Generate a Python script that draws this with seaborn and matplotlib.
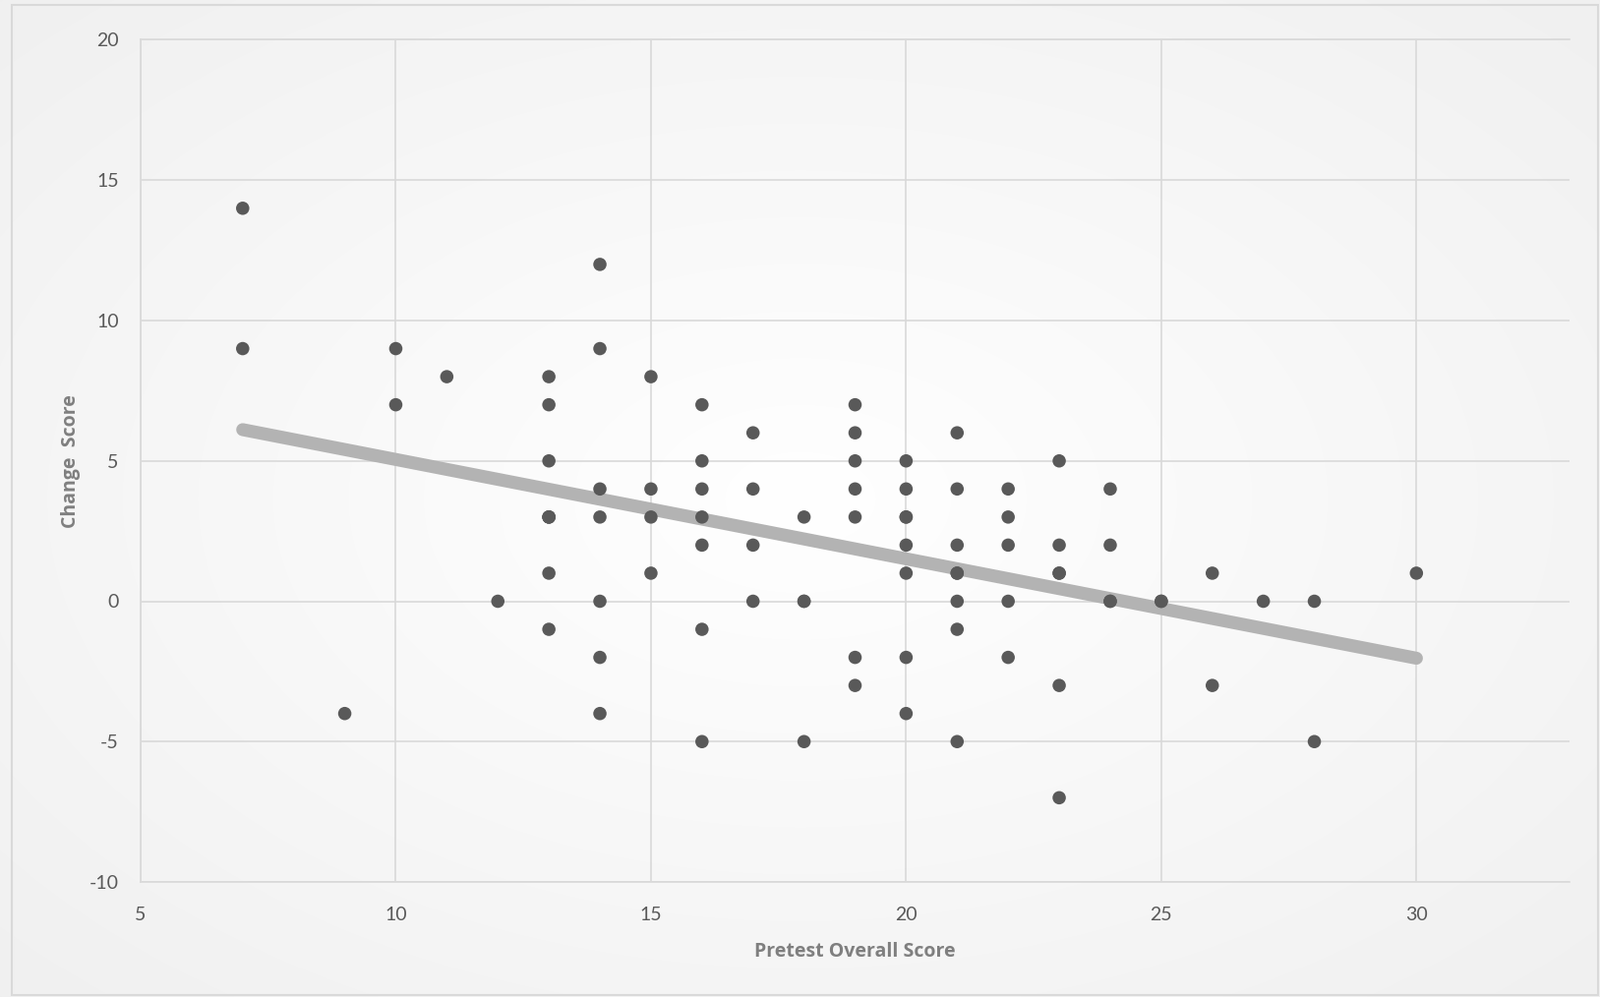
import numpy as np
import pandas as pd
import matplotlib
matplotlib.use("Agg")
import matplotlib.pyplot as plt
import seaborn as sns

# Data (overlapping dots appear as duplicates)
pretest = [7, 7, 9, 10, 10, 11, 12,
           13, 13, 13, 13, 13, 13, 13, 13,
           14, 14, 14, 14, 14, 14, 14,
           15, 15, 15, 15,
           16, 16, 16, 16, 16, 16, 16,
           17, 17, 17, 17,
           18, 18, 18, 18,
           19, 19, 19, 19, 19, 19, 19,
           20, 20, 20, 20, 20, 20, 20, 20,
           21, 21, 21, 21, 21, 21, 21, 21,
           22, 22, 22, 22, 22,
           23, 23, 23, 23, 23, 23,
           24, 24, 24, 24,
           25, 25, 26, 26, 27, 28, 28, 30]
change = [14, 9, -4, 9, 7, 8, 0,
          8, 7, 5, 3, 3, 3, 1, -1,
          12, 9, 4, 3, 0, -2, -4,
          8, 4, 3, 1,
          7, 5, 4, 3, 2, -1, -5,
          6, 4, 2, 0,
          3, 0, 0, -5,
          7, 6, 5, 4, 3, -2, -3,
          5, 4, 3, 3, 2, 1, -2, -4,
          6, 4, 2, 1, 1, 0, -1, -5,
          4, 3, 2, 0, -2,
          5, 2, 1, 1, -3, -7,
          4, 2, 0, 0,
          0, 0, 1, -3, 0, 0, -5, 1]
x_ticks = [5, 10, 15, 20, 25, 30]
y_ticks = [-10, -5, 0, 5, 10, 15, 20]

df = pd.DataFrame({"Pretest Overall Score": pretest, "Change Score": change})

sns.set_theme(style="white")
plt.rcParams["font.family"] = ["Lato", "DejaVu Sans"]
plt.rcParams["axes.unicode_minus"] = False

W, H = 1627, 1014
fig = plt.figure(figsize=(W / 100, H / 100), dpi=100)

# radial gradient background
bg = fig.add_axes([0, 0, 1, 1], zorder=-10)
yy, xx = np.mgrid[0:H, 0:W]
r = np.sqrt(((xx - W * 0.5) / (W * 0.6)) ** 2 + ((yy - H * 0.5) / (H * 0.6)) ** 2)
val = 1.0 - 0.06 * np.clip(r, 0, 1.2) / 1.2
bg.imshow(np.dstack([val, val, val]), aspect="auto", extent=[0, 1, 0, 1])
bg.set_xlim(0, 1); bg.set_ylim(0, 1)
bg.axis("off")
bg.add_patch(plt.Rectangle((12 / W, 1 - (H - 2) / H), (W - 14) / W, (H - 7) / H,
                           fill=False, edgecolor="#d9d9d9", lw=1.5, transform=bg.transAxes))

ax = fig.add_axes([143 / W, 1 - 897 / H, (1596 - 143) / W, (897 - 40.5) / H])
ax.set_facecolor("none")

sns.regplot(data=df, x="Pretest Overall Score", y="Change Score", ax=ax, ci=None,
            scatter=False, truncate=True,
            line_kws=dict(color="#b3b3b3", lw=9.5, solid_capstyle="round", zorder=2))
sns.scatterplot(data=df, x="Pretest Overall Score", y="Change Score", ax=ax,
                color="#595959", s=95, edgecolor="none", zorder=3)

ax.set_xlim(5, 33)
ax.set_ylim(-10, 20)
ax.set_xticks(x_ticks)
ax.set_yticks(y_ticks)
ax.grid(True, color="#d9d9d9", lw=1.2)
ax.set_axisbelow(True)
for s in ["left", "top", "bottom"]:
    ax.spines[s].set_visible(True)
    ax.spines[s].set_color("#d9d9d9")
    ax.spines[s].set_linewidth(1.2)
ax.spines["right"].set_visible(False)
ax.tick_params(axis="both", length=0, labelsize=14, labelcolor="#595959")
ax.tick_params(axis="y", pad=16)
ax.tick_params(axis="x", pad=18)

lab_font = dict(family=["Open Sans", "DejaVu Sans"], fontsize=14, fontweight="bold", color="#7f7f7f")
ax.set_xlabel("Pretest Overall Score", labelpad=14, **lab_font)
ax.set_ylabel("Change  Score", labelpad=6, **lab_font)

fig.savefig("out.png", dpi=100)
